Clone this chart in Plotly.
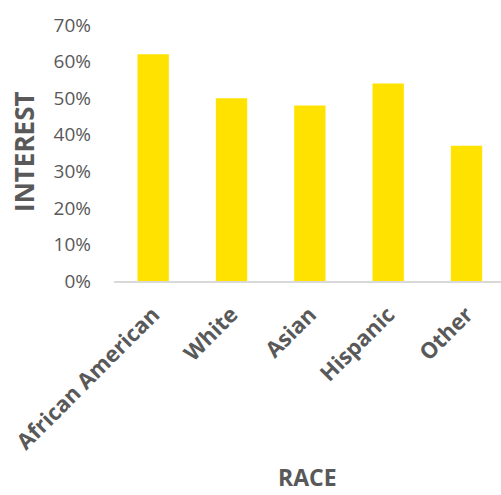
import plotly.graph_objects as go

# Share of respondents interested, by race
races = ["African American", "White", "Asian", "Hispanic", "Other"]
interest = [0.62, 0.50, 0.48, 0.54, 0.37]
y_ticks = [0, 0.1, 0.2, 0.3, 0.4, 0.5, 0.6, 0.7]

GRAY = "#595959"
FONT = "Open Sans"

fig = go.Figure(
    go.Bar(
        x=races,
        y=interest,
        marker=dict(color="#FFE200", line=dict(width=0)),
    )
)

fig.update_layout(
    width=501,
    height=495,
    margin=dict(l=114, r=0, t=25, b=214),
    paper_bgcolor="white",
    plot_bgcolor="white",
    bargap=0.6,
    showlegend=False,
    font=dict(family=FONT, color=GRAY),
    xaxis=dict(
        type="category",
        range=[-0.5, 4.44],
        tickangle=-45,
        tickfont=dict(family=FONT, size=22, color=GRAY, weight="bold"),
        ticklabelstandoff=10,
        showline=True,
        linecolor="#D9D9D9",
        linewidth=2,
        ticks="",
        showgrid=False,
    ),
    yaxis=dict(
        range=[0, 0.7],
        tickvals=y_ticks,
        tickformat=".0%",
        tickfont=dict(family=FONT, size=19, color=GRAY),
        ticklabelstandoff=22,
        showgrid=False,
        zeroline=False,
        showline=False,
        ticks="",
    ),
    annotations=[
        dict(
            text="<b>RACE</b>",
            xref="paper", yref="paper",
            x=0.5, y=-0.765,
            xanchor="center", yanchor="middle",
            showarrow=False,
            font=dict(family=FONT, size=23, color=GRAY),
        ),
        dict(
            text="<b>INTEREST</b>",
            xref="paper", yref="paper",
            x=-0.2326, y=0.504,
            xanchor="center", yanchor="middle",
            textangle=-90,
            showarrow=False,
            font=dict(family=FONT, size=26, color=GRAY),
        ),
    ],
)

fig.write_html("out.html")
